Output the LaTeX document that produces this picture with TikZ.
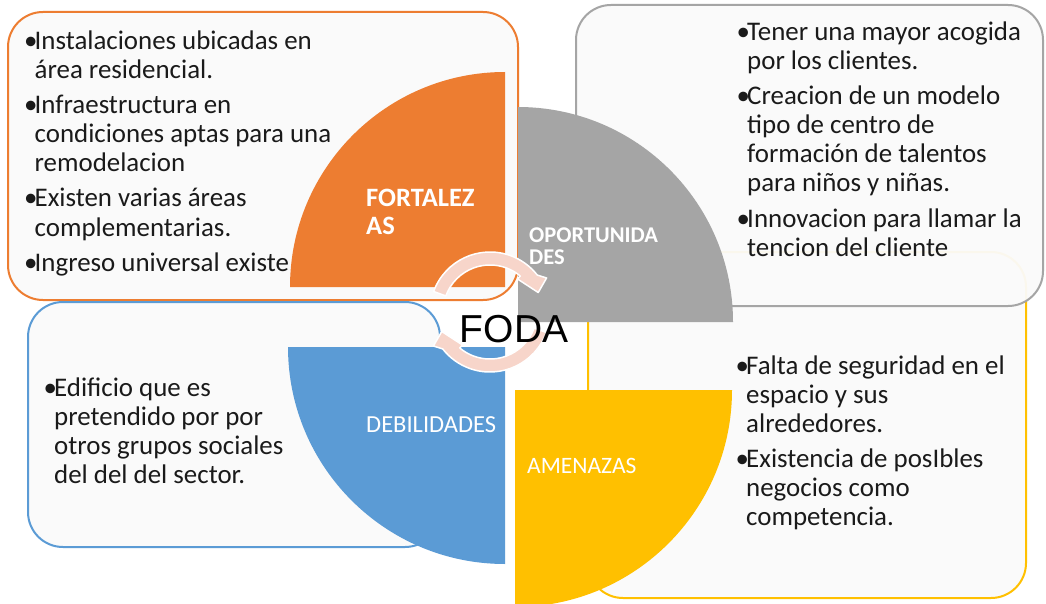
\documentclass[tikz,border=0pt]{standalone}
\usepackage{fontspec}
\setmainfont{Carlito}
\newfontfamily\fodafont{Liberation Sans}
\usetikzlibrary{calc}
\definecolor{corange}{HTML}{ED7D31}
\definecolor{cgray}{HTML}{A5A5A5}
\definecolor{cblue}{HTML}{5B9BD5}
\definecolor{cyellow}{HTML}{FFC000}
\definecolor{boxfill}{HTML}{FAFAFA}
\definecolor{arrowfill}{HTML}{F7D5CA}
\definecolor{txt}{HTML}{1A1A1A}
\newcommand{\bul}{\llap{\makebox[10.5pt][l]{•}}}
\begin{document}
\begin{tikzpicture}[x=1pt,y=-1pt,
  panel/.style={rounded corners=35pt, line width=2pt, fill=boxfill},
  body/.style={anchor=base west, inner sep=0pt, text=txt, font=\fontsize{26.9}{29}\selectfont},
  qlabel/.style={anchor=base west, inner sep=0pt, text=white},
  cyc/.style={fill=arrowfill, draw=white, line width=1.5pt, line join=round}]
\useasboundingbox (0,0) rectangle (1046,604);
\clip (0,0) rectangle (1046,604);
\fill[white] (0,0) rectangle (1046,604);
% panels
\draw[panel, draw=corange] (8,12) rectangle (518,300);
\draw[panel, draw=cyellow] (588,252) rectangle (1026,598);
\draw[panel, draw=cgray, fill opacity=0.95] (576,5) rectangle (1043,306);
\draw[panel, draw=cblue] (28,302) rectangle (440,547);
% fortalezas text
\node[body] (s1) at (34.5,50) {\bul Instalaciones ubicadas en};
\node[body] (s1b) at (34.5,79) {área residencial.};
\node[body] (s2) at (34.5,114) {\bul Infraestructura en};
\node[body] (s2b) at (34.5,143) {condiciones aptas para una};
\node[body] (s2c) at (34.5,172) {remodelacion};
\node[body] (s3) at (34.5,207) {\bul Existen varias áreas};
\node[body] (s3b) at (34.5,236) {complementarias.};
\node[body] (s4) at (34.5,271) {\bul Ingreso universal existe};
% oportunidades text
\node[body] (o1) at (747,41) {\bul Tener una mayor acogida};
\node[body] (o1b) at (747,70) {por los clientes.};
\node[body] (o2) at (747,105) {\bul Creacion de un modelo};
\node[body] (o2b) at (747,134) {tipo de centro de};
\node[body] (o2c) at (747,163) {formación de talentos};
\node[body] (o2d) at (747,192) {para niños y niñas.};
\node[body] (o3) at (747,227) {\bul Innovacion para llamar la};
\node[body] (o3b) at (747,256) {tencion del cliente};
% debilidades text
\node[body] (d1) at (54,396) {\bul Edificio que es};
\node[body] (d1b) at (54,425) {pretendido por por};
\node[body] (d1c) at (54,454) {otros grupos sociales};
\node[body] (d1d) at (54,483) {del del del sector.};
% amenazas text
\node[body] (a1) at (746,374) {\bul Falta de seguridad en el};
\node[body] (a1b) at (746,403) {espacio y sus};
\node[body] (a1c) at (746,432) {alrededores.};
\node[body] (a2) at (746,467) {\bul Existencia de posIbles};
\node[body] (a2b) at (746,496) {negocios como};
\node[body] (a2c) at (746,525) {competencia.};
% quarters
\fill[corange] (505,287) -- (290,287) arc[start angle=180,end angle=270,radius=215] -- cycle;
\fill[cgray] (518,322) -- (518,107) arc[start angle=270,end angle=360,radius=215] -- cycle;
\fill[cblue] (505,347) -- (288,347) arc[start angle=180,end angle=90,radius=217] -- cycle;
\fill[cyellow] (515,390) -- (732,390) arc[start angle=0,end angle=90,radius=217] -- cycle;
% quarter labels
\node[qlabel, font=\fontsize{26.5}{29}\selectfont\bfseries] (lf1) at (366,206) {FORTALEZ};
\node[qlabel, font=\fontsize{26.5}{29}\selectfont\bfseries] (lf2) at (366,234) {AS};
\node[qlabel, font=\fontsize{22.5}{23}\selectfont\bfseries] (lo1) at (529,242) {OPORTUNIDA};
\node[qlabel, font=\fontsize{22.5}{23}\selectfont\bfseries] (lo2) at (529,264) {DES};
\node[qlabel, font=\fontsize{24.5}{29}\selectfont] (ld) at (366,432) {DEBILIDADES};
\node[qlabel, font=\fontsize{23.5}{29}\selectfont] (la) at (527,473) {AMENAZAS};
% cycle arrows
\coordinate (C) at (490,312);
\draw[cyc] ($(C)+(-160:60)$) arc[start angle=-160,end angle=-38,radius=60]
  -- ($(C)+(-31:66)$) -- ($(C)+(-22:52)$) -- ($(C)+(-50:43)$) -- ($(C)+(-50:47)$)
  arc[start angle=-50,end angle=-160,radius=47] -- cycle;
\draw[cyc] ($(C)+(20:60)$) arc[start angle=20,end angle=142,radius=60]
  -- ($(C)+(149:66)$) -- ($(C)+(158:52)$) -- ($(C)+(130:43)$) -- ($(C)+(130:47)$)
  arc[start angle=130,end angle=20,radius=47] -- cycle;
% centre label
\node[anchor=base, inner sep=0pt, font=\fodafont\fontsize{39}{39}\selectfont] (foda) at (514,342) {FODA};
\end{tikzpicture}
\end{document}
